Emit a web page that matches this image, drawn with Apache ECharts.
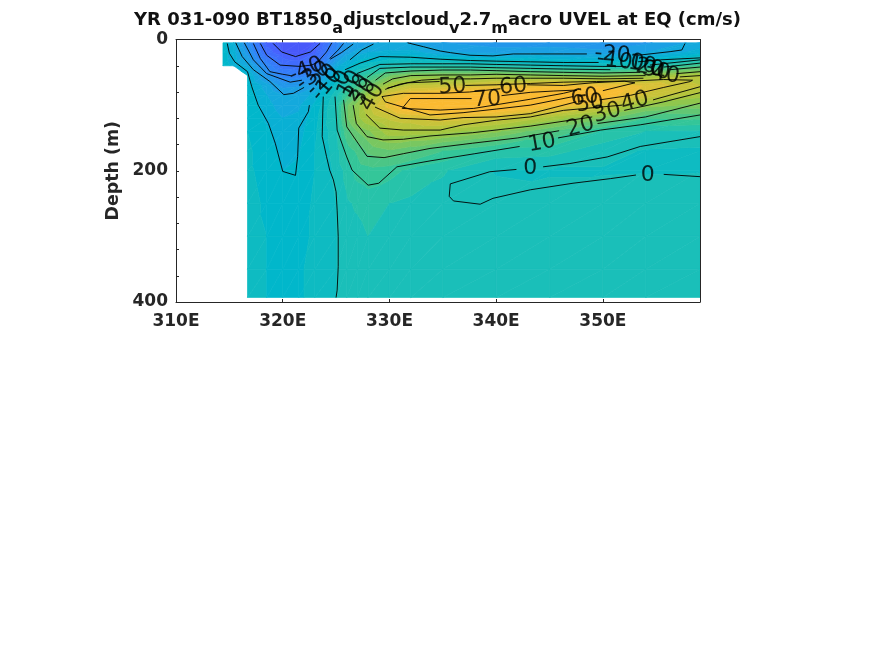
<!DOCTYPE html>
<html><head><meta charset="utf-8">
<style>html,body{margin:0;padding:0;background:#fff}#c{width:875px;height:656px}</style>
<script src="https://cdn.jsdelivr.net/npm/echarts@6/dist/echarts.min.js"></script>
</head><body><div id="c"></div>
<script>
// Value grid (cm/s), one array per longitude; n = land
const n = null;
const depths = [5,20,40,55,70,85,100,120,140,170,200,250,300,350,393];
const lons   = [314.4,315.4,316.7,318.5,320,321.5,323,325,326,327,328,330,332,335,340,345,350,354,359.1];
const u3144 = [-8,-8,-8,n,n,n,n,n,n,n,n,n,n,n,n];
const u3154 = [-14,-13,-11,n,n,n,n,n,n,n,n,n,n,n,n];
const u3167 = [-32,-27,-17,-9,-7,-6,-6,-5,-5,-4,-4,-3,-3,-3,-3];
const u3185 = [-57,-52,-36,-28,-18,-15,-13,-11,-9,-8,-7,-6,-5,-5,-5];
const u3200 = [-62,-60,-49,-38,-27,-20,-18,-15,-13,-11,-10,-8,-7,-6,-6];
const u3215 = [-65,-63,-50,-39,-26,-19,-16,-14,-12,-10.5,-9,-8,-7,-6,-6];
const u3230 = [-60,-56,-47,-33,-22,-13,-9,-7,-6,-5,-5,-4,-4,-3,-3];
const u3250 = [-38,-34,-17,-9,-3,3,5,5,3,2,1,0,-0.2,-0.2,0];
const u3260 = [-27,-22,-11,-2,6,14,24,24,18,12,7,4,2,1.5,1];
const u3270 = [-24,-18,-5,6,15,24,32,33,25,16,12,6,3,2.5,2];
const u3280 = [-22,-15,-2,12,24,36,44,40,29,21,13,7.5,5,3,2.5];
const u3300 = [-18,-14,3,24,38,53,58,46,38,24,12,5,3,3,3];
const u3320 = [-20.5,-13,4,30,45,61,70,49,38,21,8.5,4,3,3,3];
const u3350 = [-25,-18.5,6,31,46,67,72,54,37,15,5.5,3,3,3,3];
const u3400 = [-28,-22,4,33,53,67,72,49,31,8,-0.2,1,3,3,3];
const u3450 = [-28,-21,0,30,58,71,62,38,20,7,-0.5,2,3,3,3];
const u3500 = [-30,-23,-1,28,58,66,50,27,9,2,-0.5,3,3,3,3];
const u3540 = [-26,-20,1,33,54,49,33,15,5,-0.5,-0.3,2,3,3,3];
const u3591 = [-18,-13,15,40,45,37,28,16,4,-1,-0.2,2,3,3,3];
const uGrid = [u3144,u3154,u3167,u3185,u3200,u3215,u3230,u3250,u3260,u3270,u3280,u3300,u3320,u3350,u3400,u3450,u3500,u3540,u3591];

// Contour lines: [lon, depth]; null = gap at a label
const cM60 = [[319.1,6],[319.9,19],[321.2,26],[322.6,19],[323.5,6]];
const cM50 = [[317.9,6],[318.5,24],[319.75,39],[321.6,41],[322.7,39],[323.25,35],[324.1,19],[324.6,5]];
const cM40 = [[317.25,6],[317.9,29],[318.8,49],[320,53],[320.75,55],null,[324.4,29],[325.2,16],[325.7,6]];
const cM30 = [[316.4,5],[317.25,31],[318.5,52],[320.7,65],[321.8,62],null,[324.45,30],[325.5,20],[326.6,7]];
const cM20 = [[315.6,5],[316.2,26],[317.25,46],[318.8,64],[320.1,84],[321,82],[322,73],null,[326.3,31],[327.4,16],[328.5,7],null,
  [331.7,5],[333.2,11],[334.75,17.5],[335.7,20],[337.55,24],[339.7,25],[341.6,22],[343.2,22],[346.3,22],[348.5,22],null,[353.3,24],[356.3,18.5],[357.4,16],[357.7,6]];
const cM10 = [[314.8,6],[315,21],[315.5,34],[316.7,49],[317.1,72],[317.7,100],[318.66,128],[319.3,158],[320,201],[321.2,207],[321.4,178],[321.5,135],[322.4,110],[322.5,100],null,
  [325.85,46],[327.25,36],[329.1,26],[332,27],[334.75,30],[337.6,32],[340,33],[343.2,34],[346.3,35],[349.6,35],null,[353.3,34],[355.4,31],[359.1,28]];
const c0 = [[323.8,87],[323.75,112],[323.7,148],[324.1,178],[324.4,199],[324.75,214],[325,232],[325.1,260],[325.2,300],[325.2,346],[325.1,382],[325,393],null,
  [326.94,52],[328.2,44],[329.1,38],[332,37],[335,37],[337.6,37],[340,38],[343.2,39],[346.3,40],[350,41],[352.2,41],null,[354.4,39],[359.1,31],null,
  [341.9,198],[339.4,201.5],[335.7,220],[335.6,239],[336,246],[338.5,251],[339.7,242],[343.2,229],[347.2,219],[350.7,212],[353.1,206.5],null,[355.7,205.5],[359.1,209],null,
  [344.4,194],[346.9,189],[350.4,179],[353.5,163],[359.1,148]];
const c10 = [[324.9,87],[325.1,138],[326,179],[326.5,199],[328,222],[329,219],[330.7,194],[333.8,185],[338,174],[342.2,163],null,[345.8,150],[349.8,138],[353.5,130],[359.1,115],null,
  [327.9,58],[329.1,44],[332,42],[335,42],[337.6,42],[340,43],[343.2,44],[346.3,45],[350.7,46],null,[355.7,42],[359.1,36]];
const c20 = [[325.7,92],[326,133],[327.9,178],[329.5,180],[331.3,174],[333.8,166],[337.8,158],[342,150],[345.9,139],null,[349.5,128],[354,118],[359.1,97],null,
  [328.7,62],[329.6,51],[332,48],[335,46.5],[337.6,46.5],[340,47.5],[343.2,49],[346.3,50],[350,51],[353.5,50],null,[356.3,46],[359.1,42]];
const c30 = [[326.6,100],[326.9,128],[327.9,148],[329.4,153],[331.3,152],[333.8,147],[337.8,142],[343.2,132],[349,118],null,[352,108],[355.7,95],[359.1,81],null,
  [329.4,68],[330.3,60],[332,55],[335,54],[337.6,54],[340,53],[343.2,54],[346.3,55],[350,56],[354,55],null,[356.9,52],[359.1,49]];
const c40 = [[327.8,114],[329.1,135],[331.3,138],[334.75,138],[336.9,130],[340,123],[343.2,118],[346.3,108],[351.8,100],null,[354.7,92],[359.1,72],null,
  [329.6,76],[331,68],[333,62],[335,60],[337.6,60],[340,59],[343.2,59],[346.3,59],[350,60],[353.8,59],null,[357.2,57],[359.1,55]];
const c50 = [[328.65,103],[331,120],[334.75,122.7],[336.9,119],[340,118],[343.2,113],[347.5,95],null,[349.7,92],[352.6,85],[355.7,73],[358.2,64],[358.4,62],[355.7,61],[353.2,63],[349.4,64],[346.3,65],[343.2,67],[340,69],[337.1,70],null,[334.7,64],[331.7,66],[329.8,74]];
const c60 = [[329.3,87],[331.3,82],[334.75,82],[337.5,80],[340.4,75],null,[342.9,69],[346.3,70],[349,66],[352,63.5],[353,66],[350,78],null,[347.2,87],[343.2,100],[340,106],[336.9,111.5],[333.8,115],[329.6,95],[329.3,87]];
const c70 = [[340.5,85.6],[343.2,80.5],[345.4,78.5],[347.55,77],[346.3,82],[343.2,91],[337.9,105],[334.75,107.5],[331.2,105],[331.95,90],[337.7,90]];
const contourLines = [cM60,cM50,cM40,cM30,cM20,cM10,c0,c10,c20,c30,c40,c50,c60,c70];

// Inline contour labels
const labelText = ['-40','-30','-20','-10','0','10','20','30','40','50','60','70','60','50','40','30','20','10','0','0','-20','-10','0','10','20','30','40'];
const labelLon  = [322.2,322.85,323.7,324.15,325.65,326.3,327,327.6,328.4,335.9,341.6,339.15,348.3,348.8,353,350.4,347.9,344.3,343.2,354.2,350.9,351.1,353.2,353.7,354.4,355,355.9];
const labelDep  = [46.5,55.6,62,69,59,68,74,80,88,72,72,92,89,98,95,112,133,158,196,206.6,23.6,33,36,39,44,48,54];
const labelRot  = [23,35,45,50,60,60,55,55,60,3,5,3,8,8,15,15,15,10,0,0,-5,-8,-10,-10,-10,-10,-10];

const xTicks = ['310E','320E','330E','340E','350E'];
const title = 'YR 031-090 BT1850';

// colour ramp: value -> rgb
const rampV = [-85,-61,-36,-20,-8,3,12,36,61,72,85];
const rampC = [[62,38,168],[74,92,255],[46,135,247],[25,165,225],[0,183,204],[27,191,184],[50,198,155],[160,199,64],[247,190,52],[251,183,50],[249,251,21]];
function colorOf(v){
  let i=0; while(i<rampV.length-2 && v>rampV[i+1]) i++;
  const t=(v-rampV[i])/(rampV[i+1]-rampV[i]);
  const c=rampC[i].map((a,k)=>Math.round(a+(rampC[i+1][k]-a)*t));
  return 'rgb('+c.join(',')+')';
}
const bandStep = 5;
function clip(poly,level,keepAbove){
  const out=[];
  for(let i=0;i<poly.length;i++){
    const a=poly[i],b=poly[(i+1)%poly.length];
    const ina=keepAbove?a[2]>=level:a[2]<=level, inb=keepAbove?b[2]>=level:b[2]<=level;
    if(ina) out.push(a);
    if(ina!==inb){const t=(level-a[2])/(b[2]-a[2]);out.push([a[0]+(b[0]-a[0])*t,a[1]+(b[1]-a[1])*t,level]);}
  }
  return out;
}
const pieces=[];
function addTri(tri){
  const vs=tri.map(p=>p[2]);
  const lo=Math.floor(Math.min(...vs)/bandStep)*bandStep, hi=Math.ceil(Math.max(...vs)/bandStep)*bandStep;
  for(let b=lo;b<hi;b+=bandStep){
    let p=clip(tri,b,true); if(p.length>=3) p=clip(p,b+bandStep,false);
    if(p.length>=3) pieces.push({pts:p.map(q=>[q[0],q[1]]),color:colorOf(b+bandStep/2)});
  }
}
for(let i=0;i<lons.length-1;i++)for(let j=0;j<depths.length-1;j++){
  const P=(a,b)=>uGrid[a][b]===null?null:[lons[a],depths[b],uGrid[a][b]];
  const A=P(i,j),B=P(i+1,j),C=P(i+1,j+1),D=P(i,j+1);
  if(A&&B&&C&&D){addTri([A,B,D]);addTri([B,C,D]);}
  else{const t=[A,B,C,D].filter(Boolean); if(t.length===3) addTri(t);}
}
const AX='#262626', FONT='"DejaVu Sans"';
const sub={fontFamily:FONT,fontSize:16,fontWeight:'bold',color:'#111',verticalAlign:'bottom',padding:[17,0,0,0]};
const option={
  animation:false,
  title:{left:'center',top:-1,text:'{m|'+title+'}{s|a}{m|djustcloud}{s|v}{m|2.7}{s|m}{m|acro UVEL at EQ (cm/s)}',
    textStyle:{rich:{m:{fontFamily:FONT,fontSize:18,fontWeight:'bold',color:'#111'},s:sub}}},
  grid:{left:176,top:39.5,width:524,height:262.5,containLabel:false},
  xAxis:[{type:'value',min:310,max:359.1,interval:10,position:'bottom',
    axisLine:{onZero:false,lineStyle:{color:AX,width:1}},axisTick:{inside:true,length:3,lineStyle:{color:AX}},
    splitLine:{show:false},axisLabel:{margin:11,showMaxLabel:false,color:AX,fontFamily:FONT,fontWeight:'bold',fontSize:17,
      formatter:v=>xTicks[(v-310)/10]||''}},
   {type:'value',min:310,max:359.1,interval:10,position:'top',
    axisLine:{onZero:false,lineStyle:{color:AX,width:1}},axisTick:{inside:true,length:3,lineStyle:{color:AX}},
    splitLine:{show:false},axisLabel:{show:false}}],
  yAxis:[{type:'value',inverse:true,min:0,max:400,interval:200,position:'left',name:'Depth (m)',nameLocation:'middle',nameGap:53,
    nameTextStyle:{color:AX,fontFamily:FONT,fontWeight:'bold',fontSize:17.4},
    axisLine:{onZero:false,lineStyle:{color:AX,width:1}},axisTick:{inside:true,length:3,lineStyle:{color:AX}},
    minorTick:{show:true,splitNumber:5,length:3,lineStyle:{color:AX}},
    splitLine:{show:false},minorSplitLine:{show:false},
    axisLabel:{margin:8,color:AX,fontFamily:FONT,fontWeight:'bold',fontSize:17}},
   {type:'value',inverse:true,min:0,max:400,interval:200,position:'right',
    axisLine:{onZero:false,lineStyle:{color:AX,width:1}},axisTick:{show:false},splitLine:{show:false},axisLabel:{show:false}}],
  series:[
    {type:'custom',coordinateSystem:'cartesian2d',silent:true,clip:true,z:1,
     data:pieces.map((p,i)=>[p.pts[0][0],p.pts[0][1],i]),
     encode:{x:0,y:1},
     renderItem:(params,api)=>{
       const p=pieces[api.value(2)];
       return {type:'polygon',shape:{points:p.pts.map(q=>api.coord(q))},
         style:{fill:p.color,stroke:p.color,lineWidth:0.7}};
     }},
    ...contourLines.map(c=>({type:'line',silent:true,z:3,showSymbol:false,symbol:'none',connectNulls:false,
      lineStyle:{color:'#000',width:0.9},
      data:c.map(q=>q===null?['-','-']:q)})),
    {type:'scatter',silent:true,z:5,symbolSize:1,itemStyle:{color:'transparent'},clip:false,
     data:labelText.map((t,i)=>({value:[labelLon[i],labelDep[i]],
       label:{show:true,position:'inside',formatter:t,rotate:labelRot[i],fontFamily:FONT,fontSize:22,color:'#000'}}))}
  ]
};
const chart=echarts.init(document.getElementById('c'),null,{renderer:'canvas'});
chart.setOption(option);
</script></body></html>
